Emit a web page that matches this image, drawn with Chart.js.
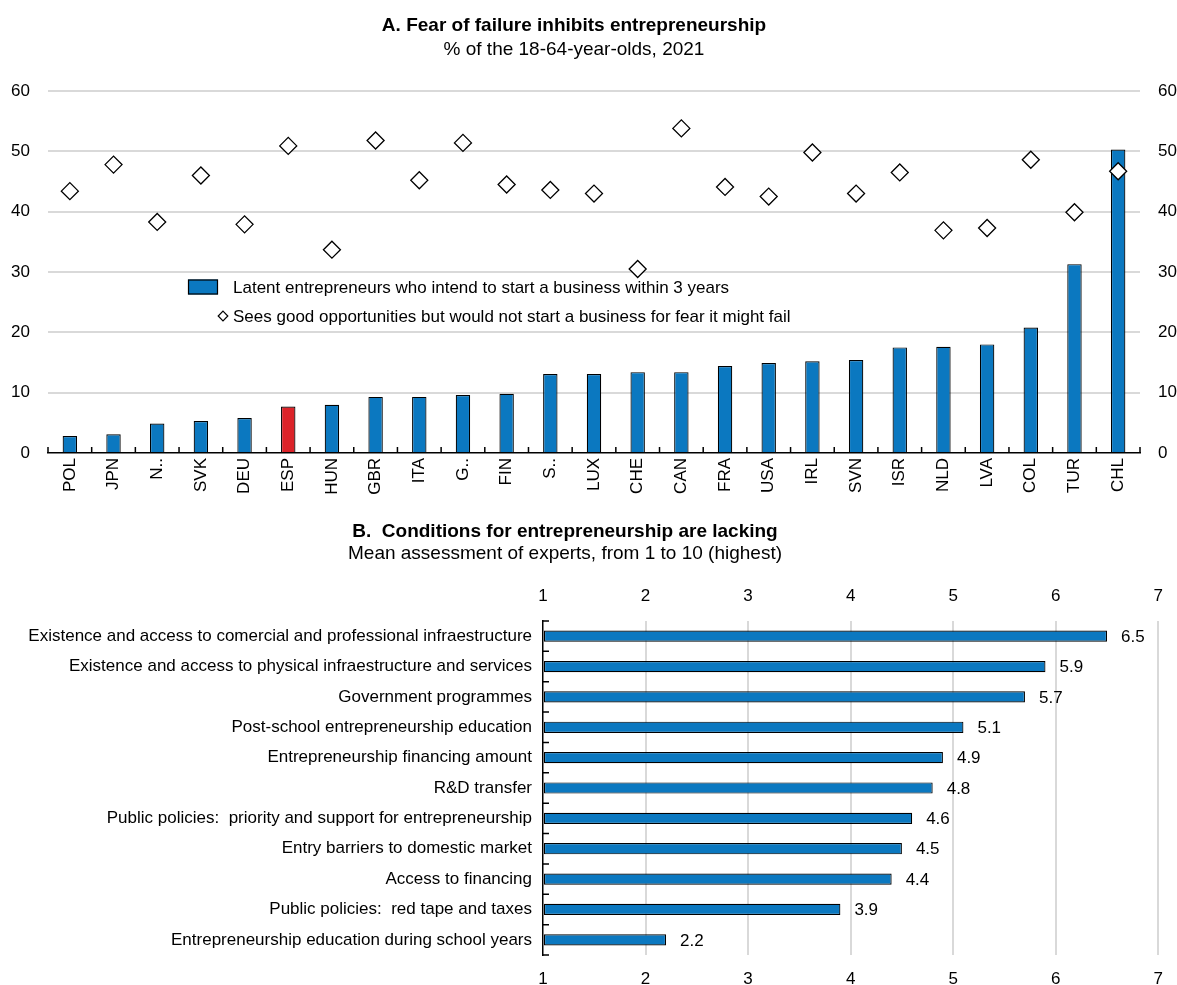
<!DOCTYPE html>
<html>
<head>
<meta charset="utf-8">
<script src="https://cdn.jsdelivr.net/npm/chart.js@4.4.1/dist/chart.umd.min.js"></script>
<style>
  html, body { margin: 0; padding: 0; background: #fff; overflow: hidden; }
  #page { position: relative; width: 1177px; height: 985px; overflow: hidden; }
  /* panels start a bit left of the page so the titles sit where the original has them */
  .panel { position: absolute; left: -29px; width: 1206px; }
  #panelA { top: 0; height: 505px; }
  #panelB { top: 505px; height: 480px; }
</style>
</head>
<body>
<div id="page">
  <div class="panel" id="panelA"><canvas id="chartA"></canvas></div>
  <div class="panel" id="panelB"><canvas id="chartB"></canvas></div>
</div>
<script>
const FONT = "'Liberation Sans', Arial, sans-serif";
Chart.defaults.font.family = FONT;
Chart.defaults.font.size = 17;
Chart.defaults.color = "#000";

const BLUE = "#0b78c0";
const RED = "#dc2329";
const GRID = "#d9d9d9";

// Panel A
const countries = ["POL", "JPN", "N..", "SVK", "DEU", "ESP", "HUN", "GBR", "ITA", "G..", "FIN", "S..", "LUX",
  "CHE", "CAN", "FRA", "USA", "IRL", "SVN", "ISR", "NLD", "LVA", "COL", "TUR", "CHL"];
const latentEntrepreneurs = [2.8, 3.1, 4.9, 5.3, 5.8, 7.7, 8.0, 9.3, 9.3, 9.6, 9.8, 13.1, 13.1,
  13.4, 13.4, 14.4, 14.9, 15.2, 15.4, 17.5, 17.6, 18.0, 20.8, 31.3, 50.3];
const fearOfFailure = [43.4, 47.8, 38.3, 46.0, 37.9, 50.9, 33.7, 51.8, 45.2, 51.4, 44.5, 43.6, 43.0,
  30.5, 53.8, 44.1, 42.5, 49.8, 43.0, 46.5, 36.9, 37.3, 48.6, 39.9, 46.7];
const highlighted = "ESP";
const percentTicks = [0, 10, 20, 30, 40, 50, 60];

// Panel B
const conditions = [
  "Existence and access to comercial and professional infraestructure",
  "Existence and access to physical infraestructure and services",
  "Government programmes",
  "Post-school entrepreneurship education",
  "Entrepreneurship financing amount",
  "R&D transfer",
  "Public policies:  priority and support for entrepreneurship",
  "Entry barriers to domestic market",
  "Access to financing",
  "Public policies:  red tape and taxes",
  "Entrepreneurship education during school years",
];
const expertScores = [6.5, 5.9, 5.7, 5.1, 4.9, 4.8, 4.6, 4.5, 4.4, 3.9, 2.2];
const scoreTicks = [1, 2, 3, 4, 5, 6, 7];

// small tick marks on the category axis, pointing into the plot
const innerTicks = {
  id: "innerTicks",
  afterDatasetsDraw(chart, args, opts) {
    const scale = chart.scales[opts.axis];
    const area = chart.chartArea;
    const ctx = chart.ctx;
    const n = scale.getLabels().length;
    ctx.save();
    ctx.strokeStyle = "#000";
    ctx.lineWidth = 1.5;
    ctx.beginPath();
    for (let i = 0; i <= n; i++) {
      const p = scale.getPixelForValue(i - 0.5);
      if (scale.isHorizontal()) {
        ctx.moveTo(p, area.bottom);
        ctx.lineTo(p, area.bottom - opts.length);
      } else {
        ctx.moveTo(area.left, p);
        ctx.lineTo(area.left + opts.length, p);
      }
    }
    ctx.stroke();
    ctx.restore();
  },
};

// legend drawn inside the plot of panel A
const insideLegend = {
  id: "insideLegend",
  afterDraw(chart, args, opts) {
    const { ctx, chartArea } = chart;
    const [bars, markers] = chart.data.datasets;
    const x = chartArea.left + opts.x;
    const y = chartArea.top + opts.y;
    ctx.save();
    ctx.font = `17px ${FONT}`;
    ctx.textBaseline = "middle";
    ctx.fillStyle = BLUE;
    ctx.fillRect(x, y - 7.5, 30, 15);
    ctx.strokeStyle = "#000";
    ctx.lineWidth = 1.2;
    ctx.strokeRect(x + 0.5, y - 7, 29, 14);
    ctx.fillStyle = "#000";
    ctx.fillText(bars.label, x + 45, y + 1);

    const y2 = y + 29;
    const r = 4.8;
    ctx.beginPath();
    ctx.moveTo(x + 35, y2 - r);
    ctx.lineTo(x + 35 + r, y2);
    ctx.lineTo(x + 35, y2 + r);
    ctx.lineTo(x + 35 - r, y2);
    ctx.closePath();
    ctx.fillStyle = "#fff";
    ctx.fill();
    ctx.lineWidth = 1.2;
    ctx.stroke();
    ctx.fillStyle = "#000";
    ctx.fillText(markers.label, x + 45, y2 + 1);
    ctx.restore();
  },
};

// value next to each bar of panel B
const barValueLabels = {
  id: "barValueLabels",
  afterDatasetsDraw(chart) {
    const ctx = chart.ctx;
    const meta = chart.getDatasetMeta(0);
    const values = chart.data.datasets[0].data;
    ctx.save();
    ctx.font = `17px ${FONT}`;
    ctx.fillStyle = "#000";
    ctx.textBaseline = "middle";
    meta.data.forEach((bar, i) => ctx.fillText(values[i].toFixed(1), bar.x + 14, bar.y + 1));
    ctx.restore();
  },
};

const titleFont = { size: 19, weight: "bold", lineHeight: 1.2 };
const subtitleFont = { size: 19, lineHeight: 1.2 };

new Chart(document.getElementById("chartA"), {
  type: "bar",
  data: {
    labels: countries,
    datasets: [
      {
        type: "bar",
        label: "Latent entrepreneurs who intend to start a business within 3 years",
        data: latentEntrepreneurs,
        backgroundColor: countries.map((c) => (c === highlighted ? RED : BLUE)),
        borderColor: "#000",
        borderWidth: 1.2,
        barPercentage: 0.33,
        categoryPercentage: 1,
        order: 2,
      },
      {
        type: "line",
        label: "Sees good opportunities but would not start a business for fear it might fail",
        data: fearOfFailure,
        showLine: false,
        pointStyle: "rectRot",
        pointRadius: 8.5,
        pointBackgroundColor: "#fff",
        pointBorderColor: "#000",
        pointBorderWidth: 1.3,
        order: 1,
      },
    ],
  },
  options: {
    responsive: true,
    maintainAspectRatio: false,
    animation: false,
    plugins: {
      legend: { display: false },
      tooltip: { enabled: false },
      title: {
        display: true,
        text: "A. Fear of failure inhibits entrepreneurship",
        color: "#000",
        font: titleFont,
        padding: { top: 14, bottom: 2 },
      },
      subtitle: {
        display: true,
        text: "% of the 18-64-year-olds, 2021",
        color: "#000",
        font: subtitleFont,
        padding: { top: 0, bottom: 29.4 },
      },
      innerTicks: { axis: "x", length: 6 },
      insideLegend: { x: 140, y: 196 },
    },
    scales: {
      x: {
        grid: { display: false, drawTicks: false },
        border: { display: true, color: "#000", width: 1.5 },
        ticks: { maxRotation: 90, minRotation: 90, autoSkip: false, padding: 5 },
        afterFit: (s) => { s.height = 52; },
      },
      y: {
        position: "left",
        min: percentTicks[0],
        max: percentTicks[percentTicks.length - 1],
        ticks: { stepSize: percentTicks[1] - percentTicks[0], padding: 18 },
        grid: {
          color: (ctx) => (ctx.tick && ctx.tick.value === 0 ? "rgba(0,0,0,0)" : GRID),
          lineWidth: 2,
          drawTicks: false,
        },
        border: { display: false },
        afterFit: (s) => { s.width = 77; },
      },
      y2: {
        position: "right",
        min: percentTicks[0],
        max: percentTicks[percentTicks.length - 1],
        ticks: { stepSize: percentTicks[1] - percentTicks[0], padding: 18 },
        grid: { display: false, drawTicks: false },
        border: { display: false },
        afterFit: (s) => { s.width = 37; },
      },
    },
  },
  plugins: [innerTicks, insideLegend],
});

new Chart(document.getElementById("chartB"), {
  type: "bar",
  data: {
    labels: conditions,
    datasets: [
      {
        data: expertScores,
        backgroundColor: BLUE,
        borderColor: "#000",
        borderWidth: 1.2,
        borderSkipped: false,
        barPercentage: 0.37,
        categoryPercentage: 1,
        base: scoreTicks[0],
      },
    ],
  },
  options: {
    indexAxis: "y",
    responsive: true,
    maintainAspectRatio: false,
    animation: false,
    layout: { padding: { right: 18 } },
    plugins: {
      legend: { display: false },
      tooltip: { enabled: false },
      title: {
        display: true,
        text: "B.  Conditions for entrepreneurship are lacking",
        color: "#000",
        font: titleFont,
        padding: { top: 15, bottom: 0 },
      },
      subtitle: {
        display: true,
        text: "Mean assessment of experts, from 1 to 10 (highest)",
        color: "#000",
        font: subtitleFont,
        padding: { top: 0, bottom: 20.4 },
      },
      innerTicks: { axis: "y", length: 6 },
    },
    scales: {
      x: {
        position: "bottom",
        min: scoreTicks[0],
        max: scoreTicks[scoreTicks.length - 1],
        ticks: { stepSize: 1, padding: 14 },
        grid: {
          color: (ctx) => (ctx.tick && ctx.tick.value === scoreTicks[0] ? "rgba(0,0,0,0)" : GRID),
          lineWidth: 2,
          drawTicks: false,
        },
        border: { display: false },
        afterFit: (s) => { s.height = 30; },
      },
      x2: {
        position: "top",
        type: "linear",
        min: scoreTicks[0],
        max: scoreTicks[scoreTicks.length - 1],
        ticks: { stepSize: 1, padding: 14 },
        grid: { display: false, drawTicks: false },
        border: { display: false },
        afterFit: (s) => { s.height = 35; },
      },
      y: {
        grid: { display: false, drawTicks: false },
        border: { display: true, color: "#000", width: 1.5 },
        ticks: { autoSkip: false, padding: 11 },
        afterFit: (s) => { s.width = 572; },
      },
    },
  },
  plugins: [innerTicks, barValueLabels],
});
</script>
</body>
</html>
